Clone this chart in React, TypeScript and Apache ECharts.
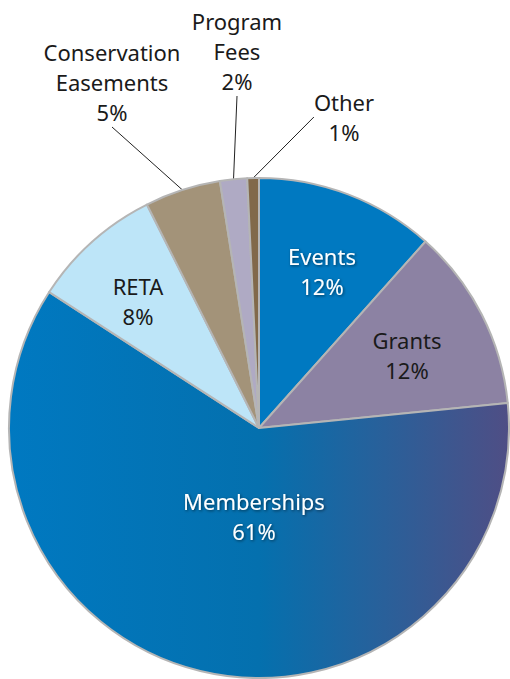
import React, { useEffect, useRef } from "react";
import * as echarts from "echarts";

const categories = ["Events", "Grants", "Memberships", "RETA", "Conservation\nEasements", "Program\nFees", "Other"];
const values = [11.6, 11.8, 60.75, 8.45, 4.9, 1.75, 0.75];
const colors = ["#0079C1", "#8C82A3", "gradient", "#BDE5F8", "#A39379", "#AFAAC4", "#81694A"];
const textColors = ["#ffffff", "#1a1a1a", "#ffffff", "#1a1a1a", "#1a1a1a", "#1a1a1a", "#1a1a1a"];
const outsideLabel = [false, false, false, false, true, true, true];
// label centres (px)
const labelPos: [number, number][] = [
  [322, 271],
  [407, 355],
  [254, 516],
  [138, 301],
  [112, 82],
  [237, 51],
  [344, 117],
];

export default function App() {
  const ref = useRef<HTMLDivElement>(null);
  useEffect(() => {
    document.body.style.margin = "0";
    const chart = echarts.init(ref.current!, undefined, { renderer: "svg" });
    const memGrad = new echarts.graphic.LinearGradient(0, 0, 1, 0, [
      { offset: 0, color: "#0079C1" },
      { offset: 0.5, color: "#0470AE" },
      { offset: 0.75, color: "#29609A" },
      { offset: 1, color: "#4F4E85" },
    ]);
    const data = categories.map((name, i) => ({
      name,
      value: values[i],
      itemStyle: { color: colors[i] === "gradient" ? memGrad : colors[i] },
      label: {
        position: outsideLabel[i] ? "outside" : "inside",
        color: textColors[i],
        ...(textColors[i] === "#ffffff"
          ? { textShadowColor: "rgba(0,0,0,0.55)", textShadowBlur: 3, textShadowOffsetX: 1, textShadowOffsetY: 1 }
          : {}),
      },
      labelLine: { show: outsideLabel[i] },
    }));
    chart.setOption({
      animation: false,
      series: [
        {
          type: "pie",
          center: [259, 428],
          radius: 250,
          startAngle: 90,
          clockwise: true,
          avoidLabelOverlap: false,
          itemStyle: { borderColor: "#B5B5B5", borderWidth: 2 },
          label: {
            show: true,
            fontFamily: "Noto Sans",
            fontSize: 22,
            lineHeight: 30,
            align: "center",
            formatter: (p: any) => `${p.name}\n${Math.round(p.percent)}%`,
          },
          labelLine: { length: 12, length2: 0, lineStyle: { color: "#222", width: 1 } },
          labelLayout: (p: any) => {
            const [x, y] = labelPos[p.dataIndex];
            return { x, y, align: "center", verticalAlign: "middle" };
          },
          emphasis: { disabled: true },
          data,
        },
      ],
    });
    return () => chart.dispose();
  }, []);
  return <div ref={ref} style={{ width: 510, height: 679 }} />;
}
